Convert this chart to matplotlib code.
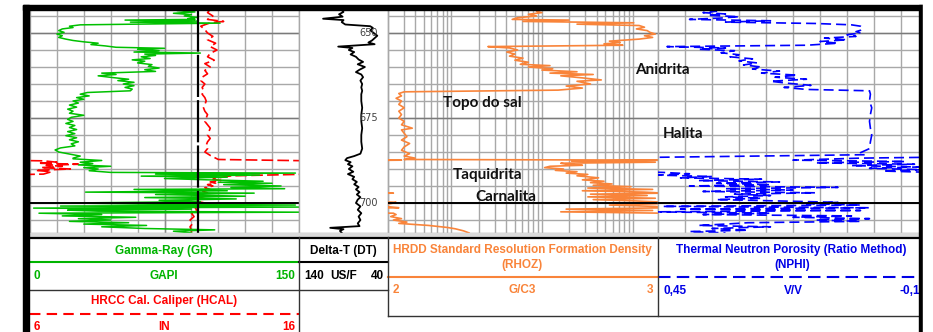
import numpy as np
import matplotlib.pyplot as plt
from matplotlib.ticker import LogLocator
from matplotlib.patches import Rectangle

gr_depth = [643.0, 643.4, 643.8, 644.2, 644.6, 645.0, 645.4, 645.8, 646.0, 646.2, 646.5, 646.8, 647.1,
            647.6, 648.0, 648.4, 648.8, 649.3, 649.8, 650.3, 650.8, 651.3, 651.8, 652.2, 652.6, 653.0,
            653.4, 653.8, 654.2, 654.5, 654.8, 655.2, 655.6, 655.9, 656.2, 656.6, 657.0, 657.5, 657.9,
            658.3, 658.8, 659.3, 659.8, 660.3, 660.8, 661.3, 661.8, 662.2, 662.6, 663.1, 663.6, 664.0,
            664.5, 665.0, 665.5, 666.0, 666.5, 667.0, 667.5, 668.0, 668.5, 669.0, 669.5, 670.0, 670.6,
            671.2, 671.8, 672.4, 673.0, 673.6, 674.2, 674.8, 675.4, 676.0, 676.6, 677.2, 677.8, 678.4,
            679.0, 679.6, 680.2, 680.8, 681.4, 682.0, 682.6, 683.2, 683.8, 684.4, 685.0, 685.6, 686.2,
            686.8, 687.0, 687.5, 688.0, 688.4, 688.8, 689.2, 689.6, 690.0, 690.5, 691.0, 691.2, 691.5,
            691.8, 692.1, 692.4, 692.8, 693.2, 693.6, 693.9, 694.2, 694.6, 695.0, 695.4, 695.8, 696.0,
            696.4, 696.8, 697.1, 697.5, 698.0, 698.4, 698.8, 699.2, 699.6, 700.0, 700.3, 700.6, 700.9,
            701.2, 701.5, 701.8, 702.1, 702.4, 702.7, 703.0, 703.4, 703.8, 704.2, 704.6, 705.0, 705.4,
            705.8, 706.2, 706.6, 707.0, 707.5, 707.9, 708.3, 708.8]
gr = [88, 82, 92, 80, 90, 86, 93, 88, 92, 53, 93, 56, 106,
      28, 22, 24, 18, 16, 19, 15, 18, 16, 20, 24, 30, 38,
      34, 42, 48, 75, 60, 72, 58, 95, 64, 70, 62, 67, 57,
      64, 60, 68, 66, 72, 64, 70, 40, 48, 38, 46, 55, 49,
      58, 52, 58, 53, 57, 56, 32, 28, 33, 26, 30, 24, 27,
      22, 26, 21, 24, 22, 30, 23, 21, 24, 20, 25, 22, 26,
      21, 25, 20, 26, 22, 27, 23, 25, 17, 14, 16, 22, 28,
      24, 24, 40, 28, 35, 27, 45, 30, 38, 33, 45, 148, 70,
      128, 62, 110, 75, 100, 130, 105, 135, 108, 140, 112, 142, 58,
      110, 31, 125, 70, 120, 64, 115, 72, 95, 23, 60, 148, 17,
      150, 2, 90, 21, 38, 150, 5, 40, 18, 59, 27, 45, 22,
      55, 30, 65, 40, 64, 103, 80, 90]

hcal_depth = [643.0, 644.0, 645.0, 646.0, 646.6, 647.0, 648.0, 649.0, 650.0, 651.0, 652.0, 653.0,
              654.0, 655.0, 656.0, 657.0, 658.0, 659.0, 660.0, 661.0, 662.0, 663.0, 664.0, 665.0,
              666.0, 667.0, 668.0, 669.0, 670.0, 671.0, 672.0, 673.0, 674.0, 675.0, 676.0, 677.0,
              678.0, 679.0, 680.0, 681.0, 682.0, 683.0, 684.0, 685.0, 686.0, 686.8, 687.2, 687.6,
              688.0, 688.3, 688.6, 688.9, 689.2, 689.6, 690.0, 690.4, 690.8, 691.5, 692.0, 692.2,
              692.6, 693.0, 693.4, 693.8, 694.2, 694.6, 695.0, 695.5, 696.0, 696.5, 697.0, 697.5,
              698.0, 698.5, 699.0, 699.5, 700.0, 700.5, 701.0, 702.0, 703.0, 704.0, 705.0, 706.0,
              707.0, 708.0, 708.8]
hcal = [12.7, 12.6, 12.8, 12.6, 13.2, 12.7, 12.35, 12.5, 12.6, 12.8, 12.6, 12.9,
        12.7, 12.95, 12.7, 12.6, 12.85, 12.5, 12.7, 12.5, 12.6, 12.4, 12.35, 12.5,
        12.4, 12.45, 12.4, 12.5, 12.55, 12.5, 12.45, 12.5, 12.6, 12.55, 12.5, 12.6,
        12.7, 12.65, 12.6, 12.7, 12.6, 12.55, 12.6, 12.5, 12.7, 12.9, 13.0, 16.5,
        17.0, 16.3, 17.8, 16.6, 17.2, 16.4, 17.5, 16.2, 16.8, 16.5, 13.5, 13.3,
        13.0, 12.8, 13.1, 12.7, 12.9, 12.6, 12.8, 12.5, 12.7, 12.4, 12.6, 12.3,
        12.5, 12.3, 12.4, 12.2, 12.5, 12.3, 12.1, 12.2, 12.0, 12.1, 11.95, 12.05,
        11.95, 12.0, 12.0]
bit_size = 12.25

dt_depth = [643.0, 643.8, 644.5, 645.2, 645.8, 646.2, 646.8, 647.5, 648.0, 648.5, 649.2, 650.0,
            650.8, 651.5, 652.2, 652.8, 653.3, 654.0, 654.4, 655.0, 655.6, 656.3, 657.0, 657.8,
            658.5, 659.2, 660.0, 660.8, 661.5, 662.2, 663.0, 664.0, 665.0, 666.0, 667.0, 668.0,
            670.0, 672.0, 674.0, 676.0, 678.0, 680.0, 682.0, 684.0, 685.5, 686.2, 686.8, 687.4,
            688.0, 688.6, 689.2, 690.0, 690.8, 691.5, 692.3, 693.0, 693.8, 694.5, 695.3, 696.0,
            696.8, 697.5, 698.3, 699.0, 700.0, 701.0, 702.0, 703.0, 704.0, 705.0, 706.0, 706.8,
            707.3, 707.7, 708.2, 708.8]
dt = [93, 90, 95, 91, 113, 90, 92, 88, 60, 57, 60, 56,
      52, 55, 58, 62, 55, 96, 80, 84, 78, 82, 76, 73,
      68, 74, 66, 72, 76, 70, 68, 71, 69, 70, 69, 70,
      70, 69, 70, 70, 69, 70, 70, 69, 71, 78, 86, 88,
      82, 85, 80, 84, 79, 85, 78, 80, 75, 78, 73, 76,
      72, 75, 71, 74, 76, 71, 74, 70, 73, 71, 74, 72,
      105, 90, 94, 92]

rhoz_depth = [643.0, 643.6, 644.0, 644.5, 645.0, 645.5, 646.0, 646.2, 646.6, 647.0, 647.4, 647.8,
              648.3, 648.8, 649.3, 649.8, 650.3, 650.8, 651.3, 651.8, 652.4, 652.8, 653.2, 653.6,
              654.0, 654.4, 655.0, 655.6, 656.2, 656.8, 657.4, 658.0, 658.6, 659.2, 659.6, 660.0,
              660.5, 660.9, 661.4, 661.8, 662.2, 662.6, 663.2, 663.8, 664.2, 665.0, 665.6, 666.2,
              666.8, 667.3, 667.8, 668.5, 669.2, 670.0, 671.0, 672.0, 673.0, 674.0, 675.0, 676.0,
              677.0, 678.0, 678.5, 679.5, 680.5, 681.5, 682.5, 683.5, 684.5, 685.5, 686.2, 686.8,
              687.2, 687.4, 687.7, 688.0, 688.3, 688.6, 688.9, 689.2, 689.6, 690.0, 690.4, 690.8,
              691.2, 691.6, 692.0, 692.6, 693.2, 693.6, 694.0, 694.4, 694.8, 695.2, 695.6, 696.0,
              696.4, 696.8, 697.1, 697.4, 697.8, 698.2, 698.6, 699.0, 699.4, 699.8, 700.2, 700.6,
              701.0, 701.4, 701.8, 702.2, 702.6, 703.0, 703.4, 704.0, 704.6, 705.0, 705.6, 706.0,
              706.6, 707.2, 707.6, 708.2, 708.8]
rhoz = [2.56, 2.55, 2.57, 2.52, 2.55, 2.48, 2.46, 2.67, 2.50, 2.91, 2.70, 2.93,
        2.95, 2.92, 2.96, 2.97, 2.99, 2.95, 2.98, 2.93, 2.82, 2.86, 2.80, 2.87,
        2.37, 2.45, 2.48, 2.44, 2.47, 2.45, 2.50, 2.47, 2.52, 2.49, 2.60, 2.52,
        2.61, 2.57, 2.70, 2.60, 2.76, 2.64, 2.72, 2.79, 2.70, 2.75, 2.66, 2.72,
        2.63, 2.06, 2.04, 2.05, 2.03, 2.05, 2.04, 2.06, 2.04, 2.05, 2.04, 2.06,
        2.05, 2.09, 2.05, 2.06, 2.07, 2.05, 2.08, 2.06, 2.05, 2.08, 2.06, 2.10,
        2.06, 3.05, 2.68, 2.99, 2.64, 2.66, 2.72, 2.60, 2.58, 2.65, 2.62, 2.70,
        2.66, 2.74, 2.70, 2.78, 2.72, 2.80, 2.75, 2.83, 2.76, 2.90, 2.74, 2.98,
        2.72, 2.95, 3.02, 2.75, 2.96, 2.74, 2.99, 2.76, 2.92, 3.03, 3.01, 2.82,
        2.99, 3.04, 2.66, 2.98, 2.64, 3.02, 3.03, 3.01, 3.05, 3.02, 3.07, 3.04,
        3.15, 3.22, 3.25, 3.28, 3.30]

nphi_depth = [643.0, 643.6, 644.0, 644.4, 644.8, 645.2, 645.6, 646.0, 646.4, 646.8, 647.2, 647.6,
              648.0, 648.6, 649.2, 649.6, 650.0, 650.5, 651.0, 651.5, 652.0, 652.5, 653.0, 653.6,
              654.0, 654.4, 654.8, 655.2, 655.8, 656.4, 657.0, 657.6, 658.2, 658.8, 659.4, 660.0,
              660.6, 661.2, 661.8, 662.4, 663.0, 663.6, 664.2, 664.8, 665.4, 666.0, 666.6, 667.0,
              668.0, 670.0, 672.0, 674.0, 676.0, 678.0, 680.0, 682.0, 684.0, 685.2, 685.8, 686.8,
              687.4, 687.8, 688.2, 688.6, 689.0, 689.4, 689.8, 690.2, 690.6, 691.0, 691.4, 691.8,
              692.2, 692.6, 693.0, 693.4, 693.8, 694.2, 694.6, 695.0, 695.4, 695.8, 696.2, 696.6,
              697.0, 697.4, 697.8, 698.2, 698.6, 699.0, 699.4, 699.8, 700.2, 700.6, 701.0, 701.4,
              701.8, 702.2, 702.6, 703.0, 703.4, 703.8, 704.2, 704.6, 705.0, 705.4, 705.8, 706.2,
              706.6, 707.0, 707.5, 708.0, 708.4, 708.8]
nphi = [0.36, 0.32, 0.35, 0.30, 0.34, 0.27, 0.31, 0.38, 0.20, 0.30, 0.10, 0.02,
        0.0, -0.005, 0.0, 0.01, 0.0, 0.03, 0.01, 0.08, 0.03, 0.09, 0.05, 0.12,
        0.43, 0.30, 0.36, 0.28, 0.31, 0.27, 0.29, 0.24, 0.27, 0.23, 0.26, 0.22,
        0.24, 0.18, 0.22, 0.14, 0.19, 0.12, 0.20, 0.16, 0.11, 0.17, 0.12, -0.02,
        -0.022, -0.02, -0.025, -0.022, -0.02, -0.022, -0.025, -0.022, -0.02, 0.0, -0.01, 0.60,
        0.75, 0.50, 0.70, 0.48, 0.62, 0.47, 0.58, 0.46, 0.55, 0.44, 0.38, 0.45,
        0.33, 0.40, 0.22, 0.36, 0.18, 0.32, 0.20, 0.38, 0.05, 0.30, 0.15, 0.35,
        0.10, 0.28, 0.20, 0.30, 0.22, 0.32, 0.18, 0.05, 0.12, 0.0, 0.44, -0.02,
        0.40, 0.0, 0.46, 0.20, 0.35, 0.02, 0.15, -0.02, 0.10, 0.0, 0.25, 0.30,
        0.36, 0.20, 0.33, 0.25, 0.38, 0.30]

depth_marks = [650, 675, 700]

W, H = 933, 332
TOP, BOT = 9, 233
d_top = 650 - (33 - TOP) / 3.4
d_bot = 650 + (BOT - 33) / 3.4
grid_c = '#a8a8a8'

fig = plt.figure(figsize=(W / 100, H / 100), dpi=100)


def rect(x0, x1):
    return [x0 / W, 1 - BOT / H, (x1 - x0) / W, (BOT - TOP) / H]


def base_track(x0, x1, xlim, xticks=None, log=False, hgrid=True):
    ax = fig.add_axes(rect(x0, x1))
    if log:
        ax.set_xscale('log')
    ax.set_xlim(*xlim)
    ax.set_ylim(d_bot, d_top)
    if log:
        ax.xaxis.set_major_locator(LogLocator(base=10, numticks=20))
        ax.xaxis.set_minor_locator(LogLocator(base=10, subs=np.arange(2, 10), numticks=100))
        ax.grid(True, which='both', axis='x', color=grid_c, lw=1)
    elif xticks is not None:
        ax.set_xticks(xticks)
        ax.grid(True, axis='x', color=grid_c, lw=1)
    else:
        ax.set_xticks([])
    if hgrid:
        ax.set_yticks(np.arange(645, 710, 5))
        ax.grid(True, axis='y', color=grid_c, lw=1)
        for d in depth_marks[:2]:
            ax.axhline(d, color='#7a7a7a', lw=1)
    else:
        ax.set_yticks([])
    ax.tick_params(which='both', length=0, labelbottom=False, labelleft=False)
    for s in ax.spines.values():
        s.set_color(grid_c)
        s.set_linewidth(1)
    return ax


def data_axes(x0, x1, base, xlim):
    ax = fig.add_axes(rect(x0, x1), sharey=base)
    ax.set_xlim(*xlim)
    ax.set_axis_off()
    return ax


# trilha 1: GR + HCAL
b_gr = base_track(30, 299, (0, 150), xticks=np.arange(15, 150, 15))
b_gr.axvline(75, color='#8c8c8c', lw=1)
ax_cal = data_axes(30, 299, b_gr, (6, 16))
ax_gr = data_axes(30, 299, b_gr, (0, 150))
hc = np.array(hcal)
ax_cal.plot(hc, hcal_depth, color='#ff0000', lw=1.2, ls=(0, (7, 2.5)))
ax_cal.plot(hc - 10, hcal_depth, color='#ff0000', lw=1.2, ls=(0, (7, 2.5)))
ax_gr.plot(gr, gr_depth, color='#00c000', lw=1.1)
ax_gr.axhline(700, color='k', lw=1.4)
ax_gr2 = data_axes(30, 299, b_gr, (6, 16))
ax_gr2.axvline(bit_size, color='k', lw=1.6, ls=(0, (19, 1.4)))

# trilha 2: DT + profundidade
b_dt = base_track(299, 388, (140, 40), hgrid=False)
ax_dt = data_axes(299, 388, b_dt, (140, 40))
for d in depth_marks:
    ax_dt.text(62, d, str(d), fontsize=7, ha='center', va='center', color='#404040')
ax_dt.plot(dt, dt_depth, color='k', lw=1.3)

# trilha 3: RHOZ (grade logaritmica)
b_rho = base_track(388, 658, (2, 1900), log=True)
ax_rho = data_axes(388, 658, b_rho, (2, 3))
rz = np.array(rhoz)
ax_rho.plot(rz, rhoz_depth, color='#f9843a', lw=1.2)
ax_rho.plot(rz - 1, rhoz_depth, color='#f9843a', lw=1.2)
ax_rho.axhline(700, color='k', lw=1.4)

# trilha 4: NPHI
nphi_right = 0.45 - 0.6 * (920 - 658) / 270
b_nphi = base_track(658, 920, (0.45, nphi_right), xticks=0.45 - 0.06 * np.arange(1, 10))
ax_nphi = data_axes(658, 920, b_nphi, (0.45, nphi_right))
nv = np.array(nphi)
ax_nphi.plot(nv, nphi_depth, color='#0000ff', lw=1.2, ls=(0, (6, 3)))
ax_nphi.plot(nv - 0.6, nphi_depth, color='#0000ff', lw=1.2, ls=(0, (6, 3)))
ax_nphi.axhline(700, color='k', lw=1.4)

# camada de texto, cabecalho e moldura (coordenadas em pixels)
ov = fig.add_axes([0, 0, 1, 1])
ov.set_xlim(0, W)
ov.set_ylim(H, 0)
ov.set_axis_off()

zone = dict(fontsize=11, fontweight='bold', family='Lato', color='#111111', va='center')
ov.text(635, 70, 'Anidrita', **zone)
ov.text(443, 103, 'Topo do sal', **zone)
ov.text(663, 134, 'Halita', **zone)
ov.text(453, 175, 'Taquidrita', **zone)
ov.text(475, 197, 'Carnalita', **zone)

ov.add_patch(Rectangle((29, BOT), 890, 4, color='#d9d9d9', zorder=1))


def htext(x, y, s, c, ha='center'):
    ov.text(x, y, s, color=c, ha=ha, va='center', fontsize=8.5, fontweight='bold',
            family='Liberation Sans')


green, red, orange, blue = '#00b400', '#ff0000', '#f9843a', '#0000e6'
htext(164, 251, 'Gamma-Ray (GR)', green)
ov.plot([30, 299], [262, 262], color=green, lw=1.5)
htext(34, 276, '0', green, 'left')
htext(164, 276, 'GAPI', green)
htext(295, 276, '150', green, 'right')
htext(164, 301, 'HRCC Cal. Caliper (HCAL)', red)
ov.plot([30, 299], [314, 314], color=red, lw=1.5, ls=(0, (5, 3)))
htext(34, 327, '6', red, 'left')
htext(164, 327, 'IN', red)
htext(295, 327, '16', red, 'right')

htext(343, 251, 'Delta-T (DT)', 'k')
ov.plot([299, 388], [262, 262], color='k', lw=1.5)
htext(304, 276, '140', 'k', 'left')
htext(344, 276, 'US/F', 'k')
htext(384, 276, '40', 'k', 'right')

htext(522, 250, 'HRDD Standard Resolution Formation Density', orange)
htext(522, 265, '(RHOZ)', orange)
ov.plot([388, 657], [277, 277], color=orange, lw=1.5)
htext(393, 290, '2', orange, 'left')
htext(522, 290, 'G/C3', orange)
htext(653, 290, '3', orange, 'right')

htext(791, 250, 'Thermal Neutron Porosity (Ratio Method)', blue)
htext(792, 265, '(NPHI)', blue)
ov.plot([658, 920], [277, 277], color=blue, lw=1.5, ls=(0, (6, 3)))
htext(663, 291, '0,45', blue, 'left')
htext(793, 291, 'V/V', blue)
htext(927, 291, '-0,15', blue, 'right')

line_c = '#333333'
ov.plot([28, 920], [237.5, 237.5], color='k', lw=1.6)
ov.plot([30, 388], [290, 290], color=line_c, lw=1)
ov.plot([388, 920], [316, 316], color=line_c, lw=1)
ov.plot([299, 299], [237, 332], color=line_c, lw=1)
ov.plot([388, 388], [237, 316], color=line_c, lw=1)
ov.plot([657.5, 657.5], [237, 316], color=line_c, lw=1)

ov.add_patch(Rectangle((23, 5), 900, 4.5, color='k', zorder=10))
ov.add_patch(Rectangle((23, 5), 6, H, color='k', zorder=10))
ov.add_patch(Rectangle((919, 5), 4, H, color='k', zorder=10))
ov.add_patch(Rectangle((923, 0), 10, H, color='white', zorder=10))

fig.savefig('out.png', dpi=100)
